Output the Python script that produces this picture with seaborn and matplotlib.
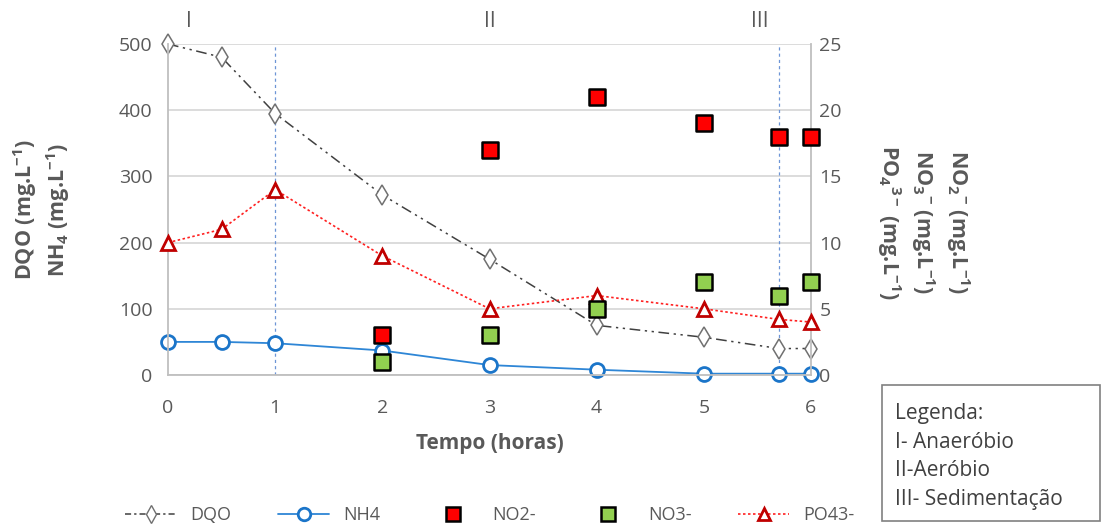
import matplotlib
matplotlib.use('Agg')
import matplotlib.pyplot as plt
import seaborn as sns
import pandas as pd
from matplotlib.lines import Line2D
from matplotlib.patches import Rectangle

# ---- data ----
time = [0, 0.5, 1, 2, 3, 4, 5, 5.7, 6]
dqo = [500, 480, 395, 272, 175, 75, 57, 40, 40]
nh4 = [50, 50, 48, 37, 15, 8, 2, 2, 2]
po4 = [10, 11, 14, 9, 5, 6, 5, 4.2, 4]
time_n = [2, 3, 4, 5, 5.7, 6]
no2 = [3, 17, 21, 19, 18, 18]
no3 = [1, 3, 5, 7, 6, 7]
phase_labels = ['I', 'II', 'III']
phase_x = [0.2, 3.0, 5.52]
phase_bounds = [1, 5.7]
x_ticks = [0, 1, 2, 3, 4, 5, 6]
left_ticks = [0, 100, 200, 300, 400, 500]
right_ticks = [0, 5, 10, 15, 20, 25]
legend_lines = ['Legenda:', 'I- Anaeróbio', 'II-Aeróbio', 'III- Sedimentação']
series_names = ['DQO', 'NH4', 'NO2-', 'NO3-', 'PO43-']

sns.set_theme(style='white')
plt.rcParams['font.family'] = ['Open Sans', 'DejaVu Sans']
plt.rcParams['mathtext.fontset'] = 'custom'
plt.rcParams['mathtext.rm'] = 'Open Sans'
plt.rcParams['mathtext.bf'] = 'Open Sans:bold'

GRAY = '#595959'
W, H = 1109, 525
fig = plt.figure(figsize=(W / 100, H / 100), dpi=100)
ax = fig.add_axes([168 / W, 1 - 375 / H, (811 - 168) / W, (375 - 44) / H])
ax2 = ax.twinx()

df = pd.DataFrame({'t': time, 'dqo': dqo, 'nh4': nh4, 'po4': po4})
dn = pd.DataFrame({'t': time_n, 'no2': no2, 'no3': no3})

ax.set_xlim(0, 6)
ax.set_ylim(0, 500)
ax2.set_ylim(0, 25)

ax.yaxis.grid(True, color='#d9d9d9', lw=1.3)
ax.set_axisbelow(True)

for xb in phase_bounds:
    ax.axvline(xb, color='#6d95d6', lw=0.9, ls=(0, (2.5, 2.5)), zorder=1)

sns.lineplot(data=df, x='t', y='dqo', ax=ax, color='#404040', lw=1.1,
             linestyle=(0, (7, 3, 1.5, 3, 1.5, 3)),
             marker='d', markersize=10, markerfacecolor='white',
             markeredgecolor='#707070', markeredgewidth=1.1, clip_on=False,
             legend=False)
sns.lineplot(data=df, x='t', y='nh4', ax=ax, color='#2e86d6', lw=1.3,
             marker='o', markersize=10, markerfacecolor='white',
             markeredgecolor='#1b75c9', markeredgewidth=2, clip_on=False,
             legend=False)

sns.scatterplot(data=dn, x='t', y='no2', ax=ax2, marker='s', s=120,
                color='#ff0000', edgecolor='black', linewidth=1.8, clip_on=False,
                zorder=5, legend=False)
sns.scatterplot(data=dn, x='t', y='no3', ax=ax2, marker='s', s=120,
                color='#92d050', edgecolor='black', linewidth=1.8, clip_on=False,
                zorder=5, legend=False)
sns.lineplot(data=df, x='t', y='po4', ax=ax2, color='#ff2020', lw=1.2,
             linestyle=(0, (1.5, 1.5)),
             marker='^', markersize=10, markerfacecolor='white',
             markeredgecolor='#c00000', markeredgewidth=2, clip_on=False,
             zorder=4, legend=False)

ax.set_xticks(x_ticks)
ax.set_yticks(left_ticks)
ax2.set_yticks(right_ticks)
ax.set_ylabel('')
ax2.set_ylabel('')

ax.tick_params(axis='y', length=0, pad=11, labelsize=14, labelcolor=GRAY)
ax.tick_params(axis='x', length=0, pad=17, labelsize=14, labelcolor=GRAY)
ax2.tick_params(axis='y', length=0, pad=6, labelsize=14, labelcolor=GRAY)

for s in ['top', 'right']:
    ax.spines[s].set_visible(False)
for s in ['left', 'bottom']:
    ax.spines[s].set_color('#bfbfbf')
    ax.spines[s].set_linewidth(1.3)
for s in ['top', 'left', 'bottom']:
    ax2.spines[s].set_visible(False)
ax2.spines['right'].set_color('#bfbfbf')
ax2.spines['right'].set_linewidth(1.3)

ax.set_xlabel('Tempo (horas)', fontsize=15, fontweight='bold', color=GRAY, labelpad=12)

# phase labels
for lab, px in zip(phase_labels, phase_x):
    ax.text(px, 1 + 22 / 331, lab, transform=ax.get_xaxis_transform(),
            ha='center', va='center', fontsize=15, color=GRAY)

# left y labels
fig.text(25 / W, 1 - 210 / H, r'DQO (mg.L$^{\mathbf{-1}}$)', rotation=90,
         ha='center', va='center', fontsize=15.5, fontweight='bold', color=GRAY)
fig.text(58 / W, 1 - 210 / H, r'NH$_{\mathbf{4}}$ (mg.L$^{\mathbf{-1}}$)', rotation=90,
         ha='center', va='center', fontsize=15.5, fontweight='bold', color=GRAY)
# right y labels
right_lbls = [r'NO$_{\mathbf{2}}$$^{\mathbf{-}}$ (mg.L$^{\mathbf{-1}}$)',
              r'NO$_{\mathbf{3}}$$^{\mathbf{-}}$ (mg.L$^{\mathbf{-1}}$)',
              r'PO$_{\mathbf{4}}$$^{\mathbf{3-}}$ (mg.L$^{\mathbf{-1}}$)']
for lbl, xp in zip(right_lbls, [958, 923, 889]):
    fig.text(xp / W, 1 - 222 / H, lbl, rotation=270,
             ha='center', va='center', fontsize=15.5, fontweight='bold', color=GRAY)

# bottom legend
handles = [
    Line2D([], [], color='#404040', lw=1.1, linestyle=(0, (4, 2, 1.5, 2)),
           marker='d', markersize=9, markerfacecolor='white', markeredgecolor='#707070'),
    Line2D([], [], color='#2e86d6', lw=1.3, marker='o', markersize=9,
           markerfacecolor='white', markeredgecolor='#1b75c9', markeredgewidth=2),
    Line2D([], [], lw=0, marker='s', markersize=10, markerfacecolor='#ff0000',
           markeredgecolor='black', markeredgewidth=1.8),
    Line2D([], [], lw=0, marker='s', markersize=10, markerfacecolor='#92d050',
           markeredgecolor='black', markeredgewidth=1.8),
    Line2D([], [], color='#ff2020', lw=1.2, linestyle=(0, (1.5, 1.5)), marker='^',
           markersize=9, markerfacecolor='white', markeredgecolor='#c00000',
           markeredgewidth=2),
]
leg = fig.legend(handles, series_names, loc='center', bbox_to_anchor=(490 / W, 1 - 515 / H),
                 ncol=5, frameon=False, fontsize=13, handlelength=2.8,
                 columnspacing=2.6, handletextpad=0.8)
for t in leg.get_texts():
    t.set_color(GRAY)

# phase legend box
fig.patches.append(Rectangle((882 / W, 1 - 521 / H), 218 / W, 136 / H,
                             transform=fig.transFigure, fill=False,
                             ec='#808080', lw=1.2))
for i, line in enumerate(legend_lines):
    fig.text(895 / W, 1 - (413 + 29 * i) / H, line, ha='left', va='center',
             fontsize=15, color='#404040')

fig.savefig('out.png', dpi=100)
